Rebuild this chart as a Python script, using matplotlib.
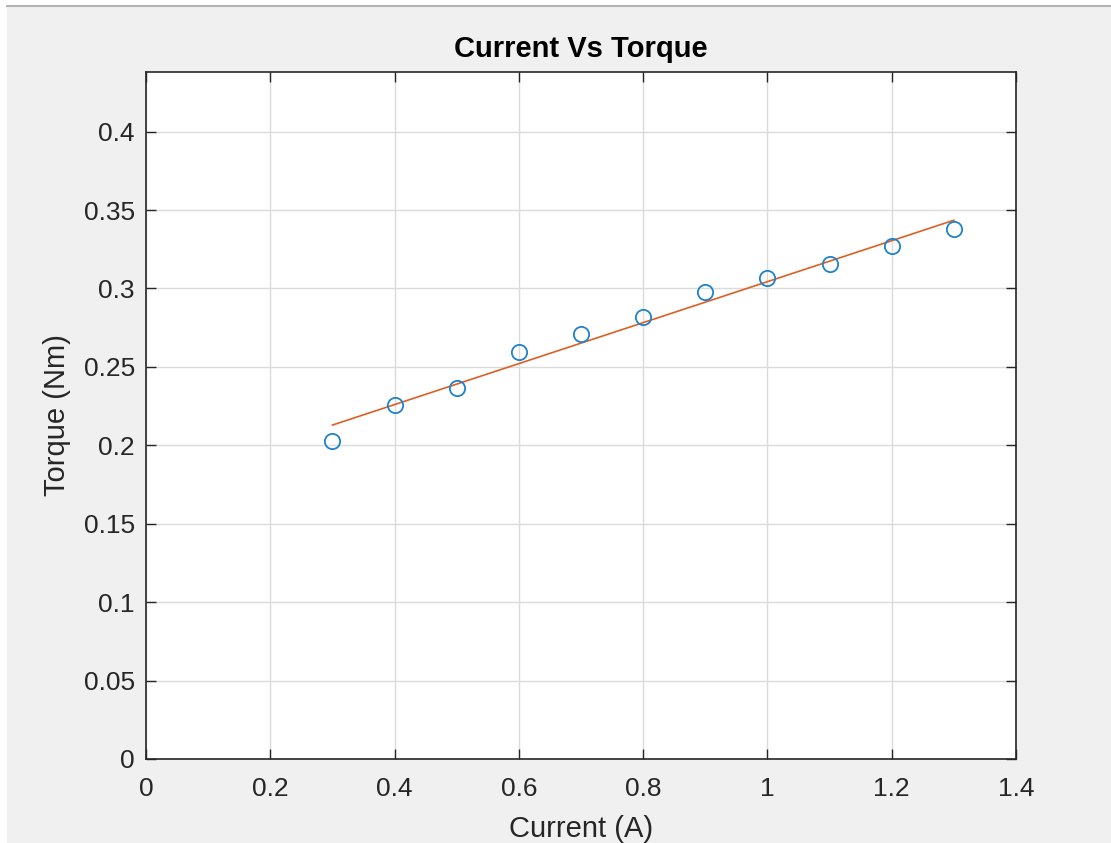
import matplotlib.pyplot as plt
from matplotlib.lines import Line2D
from matplotlib.patches import Rectangle

plt.rcParams['font.family'] = ['Liberation Sans', 'DejaVu Sans']

# measured current vs torque
current = [0.3, 0.4, 0.5, 0.6, 0.7, 0.8, 0.9, 1.0, 1.1, 1.2, 1.3]
torque = [0.2029, 0.2256, 0.2367, 0.2594, 0.2707, 0.2819,
          0.2978, 0.3068, 0.3159, 0.3270, 0.3382]

# linear fit line end points
fit_x = [0.3, 1.3]
fit_y = [0.2129, 0.3435]

xticks = [0, 0.2, 0.4, 0.6, 0.8, 1.0, 1.2, 1.4]
xticklabels = ['0', '0.2', '0.4', '0.6', '0.8', '1', '1.2', '1.4']
yticks = [0, 0.05, 0.1, 0.15, 0.2, 0.25, 0.3, 0.35, 0.4]
yticklabels = ['0', '0.05', '0.1', '0.15', '0.2', '0.25', '0.3', '0.35', '0.4']

W, H = 1111, 843
fig = plt.figure(figsize=(W / 100, H / 100), dpi=100, facecolor='white')

# MATLAB window background and top border
fig.patches.append(Rectangle((7 / W, 0), 1, (H - 6) / H, transform=fig.transFigure,
                             facecolor='#f0f0f0', edgecolor='none', zorder=-10))
fig.lines.append(Line2D([7 / W, 1], [(H - 5.5) / H] * 2, transform=fig.transFigure,
                        color='#b4b4b4', linewidth=1.5))

ax = fig.add_axes([146 / W, (H - 759) / H, (1016 - 146) / W, (759 - 72) / H])
ax.set_facecolor('white')

ax.plot(current, torque, linestyle='none', marker='o', markersize=11,
        markerfacecolor='none', markeredgecolor='#1f82cc', markeredgewidth=1.3, zorder=3)
ax.plot(fit_x, fit_y, color='#DD5F24', linewidth=1.2, zorder=2)

ax.set_xlim(0, 1.4)
ax.set_ylim(0, 0.438)
ax.set_xticks(xticks)
ax.set_xticklabels(xticklabels)
ax.set_yticks(yticks)
ax.set_yticklabels(yticklabels)

ax.grid(True, color='#dbdbdb', linewidth=1)
ax.set_axisbelow(True)
ax.tick_params(direction='in', length=7, width=1, color='#262626', labelsize=19,
               labelcolor='#262626', top=True, right=True)
ax.tick_params(axis='x', pad=13)
ax.tick_params(axis='y', pad=8)
for s in ax.spines.values():
    s.set_color('#262626')
    s.set_linewidth(1.2)

ax.set_xlabel('Current (A)', fontsize=21, color='#262626', labelpad=10)
ax.set_ylabel('Torque (Nm)', fontsize=21, color='#262626', labelpad=9)
ax.set_title('Current Vs Torque', fontsize=21, fontweight='bold', color='black', pad=11)

fig.savefig('out.png', dpi=100, facecolor=fig.get_facecolor())
